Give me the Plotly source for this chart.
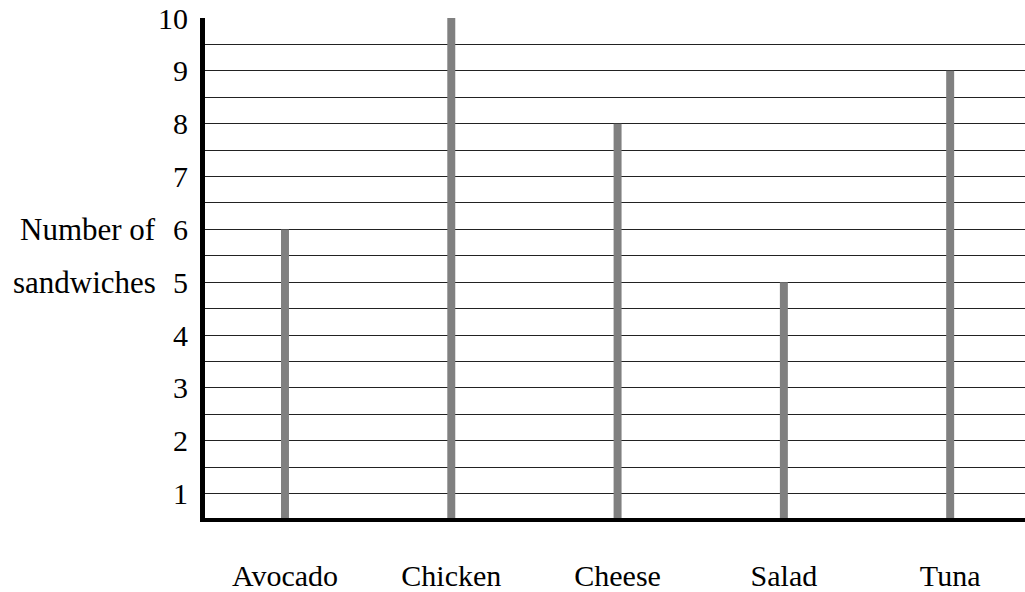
import plotly.graph_objects as go

categories = ["Avocado", "Chicken", "Cheese", "Salad", "Tuna"]
sandwiches = [6, 10, 8, 5, 9]
y_ticks = [1, 2, 3, 4, 5, 6, 7, 8, 9, 10]

FONT = "Liberation Serif"
FS = 30

grid_vals = [v / 2 for v in range(2, 21)]
grid_text = [str(int(v)) if v == int(v) else "" for v in grid_vals]

fig = go.Figure()
fig.add_trace(go.Bar(
    x=list(range(len(categories))),
    y=sandwiches,
    width=0.048,
    marker=dict(color="#808080", line=dict(width=0)),
    hoverinfo="skip",
))

fig.update_layout(
    width=1025, height=592,
    margin=dict(l=205, r=0, t=18, b=70),
    plot_bgcolor="white", paper_bgcolor="white",
    showlegend=False,
    font=dict(family=FONT, size=FS, color="black"),
    xaxis=dict(
        range=[-0.481, 4.45],
        tickvals=list(range(len(categories))),
        ticktext=categories,
        showgrid=False, zeroline=False,
        showline=True, linecolor="black", linewidth=4,
        ticks="", ticklabelstandoff=28,
        tickfont=dict(family=FONT, size=FS),
    ),
    yaxis=dict(
        range=[0.54, 10],
        tickvals=grid_vals,
        ticktext=grid_text,
        showgrid=True, gridcolor="#222222", gridwidth=1.2,
        zeroline=False,
        showline=True, linecolor="black", linewidth=5,
        ticks="", ticklabelstandoff=6,
        tickfont=dict(family=FONT, size=FS),
    ),
)

fig.add_annotation(text="Number of", xref="paper", yref="y", x=-0.0573, y=y_ticks[5],
                   xanchor="right", yanchor="middle", showarrow=False,
                   font=dict(family=FONT, size=31))
fig.add_annotation(text="sandwiches", xref="paper", yref="y", x=-0.0573, y=y_ticks[4],
                   xanchor="right", yanchor="middle", showarrow=False,
                   font=dict(family=FONT, size=31))

fig.write_html("out.html", config={"displayModeBar": False},
               post_script="document.body.style.margin='0';document.body.style.overflow='hidden';")
